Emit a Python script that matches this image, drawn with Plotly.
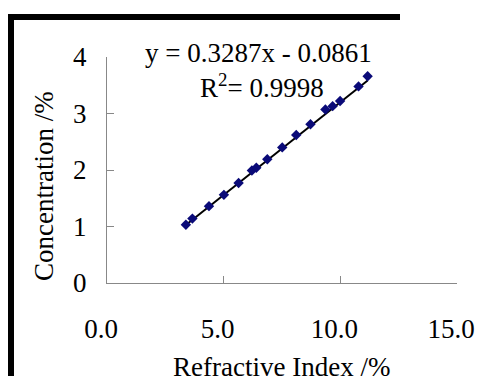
import plotly.graph_objects as go

# Data
refractive_index = [3.38, 3.66, 4.37, 5.01, 5.64, 6.21, 6.40, 6.87, 7.51, 8.11,
                    8.72, 9.36, 9.67, 9.99, 10.78, 11.17]
concentration = [1.03, 1.14, 1.36, 1.56, 1.77, 1.99, 2.04, 2.19, 2.40, 2.62,
                 2.81, 3.07, 3.13, 3.22, 3.48, 3.66]
slope = 0.3287
intercept = -0.0861
x_ticks = [0, 5, 10, 15]
x_tick_labels = ["0.0", "5.0", "10.0", "15.0"]
y_ticks = [0, 1, 2, 3, 4]
y_tick_labels = ["0", "1", "2", "3", "4"]

FONT = "Liberation Serif"
FS = 27
W, H = 486, 376
L, R, T, B = 107, 29, 57, 93

xmin, xmax = min(refractive_index), max(refractive_index)
trend_x = [xmin, xmax]
trend_y = [slope * v + intercept for v in trend_x]

fig = go.Figure()
fig.add_trace(go.Scatter(x=trend_x, y=trend_y, mode="lines",
                         line=dict(color="black", width=2), showlegend=False,
                         hoverinfo="skip"))
fig.add_trace(go.Scatter(x=refractive_index, y=concentration, mode="markers",
                         marker=dict(symbol="diamond", size=8, color="#0a0a78",
                                     line=dict(width=0)),
                         showlegend=False))

pw, ph = W - L - R, H - T - B
def px2paper_x(px):
    return (px - L) / pw
def px2paper_y(py):
    return (H - B - py) / ph

axis_common = dict(showgrid=False, zeroline=False, showline=True,
                   linecolor="#888888", linewidth=1, ticks="inside",
                   tickcolor="#888888", ticklen=7, tickwidth=1,
                   tickfont=dict(family=FONT, size=FS, color="black"),
                   mirror=False)

fig.update_layout(
    width=W, height=H,
    margin=dict(l=L, r=R, t=T, b=B),
    paper_bgcolor="white", plot_bgcolor="white",
    xaxis=dict(range=[0, 15], tickvals=x_ticks, ticktext=x_tick_labels,
               ticklabelstandoff=22, ticklabelshift=-6, **axis_common),
    yaxis=dict(range=[0, 4], tickvals=y_ticks, ticktext=y_tick_labels,
               ticklabelstandoff=14, **axis_common),
    font=dict(family=FONT, color="black"),
    annotations=[
        dict(text="y = 0.3287x - 0.0861", xref="paper", yref="paper",
             x=px2paper_x(258), y=px2paper_y(53), showarrow=False,
             xanchor="center", yanchor="middle",
             font=dict(family=FONT, size=FS, color="black")),
        dict(text="R<sup>2</sup>= 0.9998", xref="paper", yref="paper",
             x=px2paper_x(262), y=px2paper_y(86), showarrow=False,
             xanchor="center", yanchor="middle",
             font=dict(family=FONT, size=FS, color="black")),
        dict(text="Concentration /%", xref="paper", yref="paper",
             x=px2paper_x(44), y=px2paper_y(186), showarrow=False,
             textangle=-90, xanchor="center", yanchor="middle",
             font=dict(family=FONT, size=FS, color="black")),
        dict(text="Refractive Index /%", xref="paper", yref="paper",
             x=px2paper_x(281), y=px2paper_y(367), showarrow=False,
             xanchor="center", yanchor="middle",
             font=dict(family=FONT, size=FS, color="black")),
    ],
    shapes=[
        dict(type="rect", xref="paper", yref="paper",
             x0=px2paper_x(8), x1=px2paper_x(400),
             y0=px2paper_y(20), y1=px2paper_y(14),
             line=dict(width=0), fillcolor="black", layer="above"),
        dict(type="rect", xref="paper", yref="paper",
             x0=px2paper_x(8), x1=px2paper_x(14),
             y0=px2paper_y(376), y1=px2paper_y(14),
             line=dict(width=0), fillcolor="black", layer="above"),
    ],
)

fig.write_html("out.html")
